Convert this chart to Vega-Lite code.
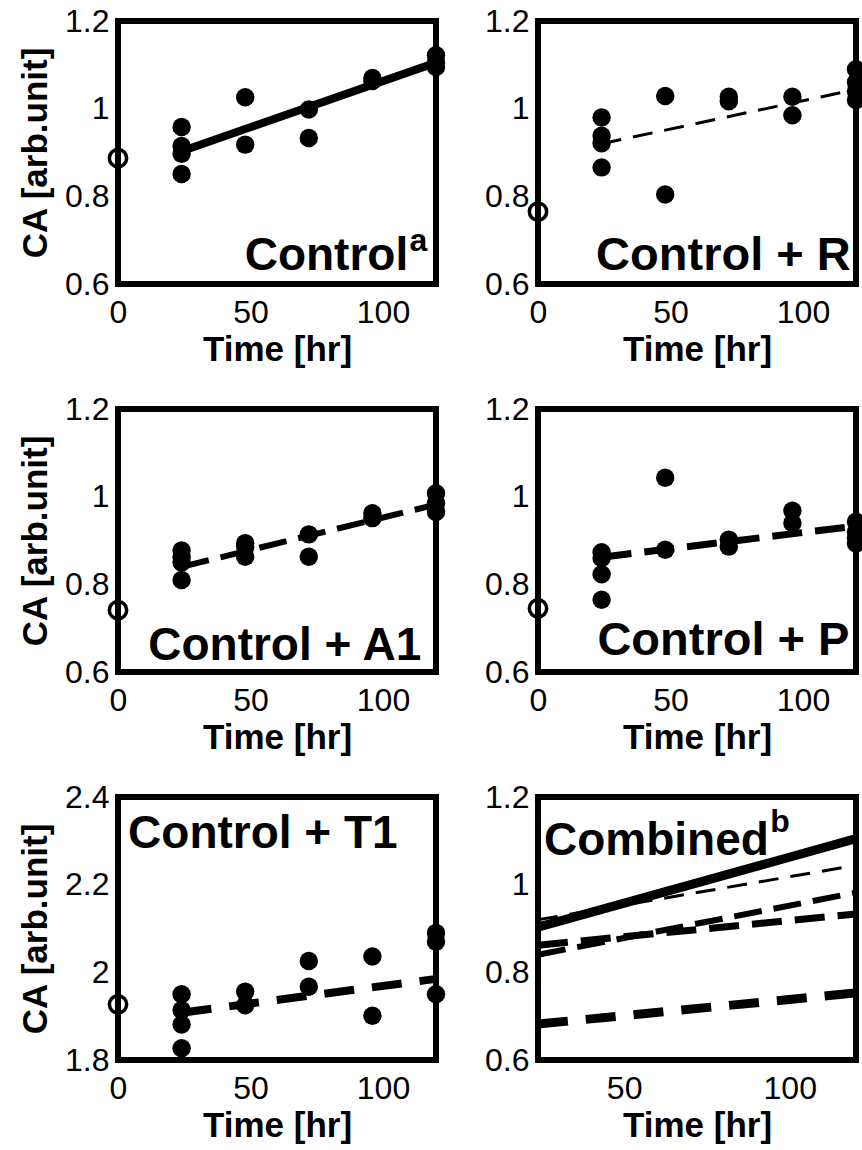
{
  "$schema": "https://vega.github.io/schema/vega-lite/v6.json",
  "padding": {"left": 15, "top": 2, "right": 0, "bottom": 0},
  "background": "white",
  "config": {
    "view": {"stroke": "black", "strokeWidth": 6},
    "font": "Liberation Sans",
    "axis": {"domain": false, "ticks": false, "grid": false, "labelFont": "Liberation Sans", "labelFontSize": 32, "labelColor": "black", "titleFont": "Liberation Sans", "titleFontSize": 35, "titleFontWeight": "bold", "titleColor": "black", "labelFlush": false, "labelOverlap": false},
    "axisX": {"labelPadding": 13, "titlePadding": 4},
    "axisY": {"labelPadding": 9, "titlePadding": 11},
    "text": {"font": "Liberation Sans", "fontWeight": "bold", "color": "black"}
  },
  "datasets": {
    "pts": [
      {"panel": "Control", "kind": "baseline", "t": 0, "v": 0.887},
      {"panel": "Control", "kind": "sample", "t": 24, "v": 0.958},
      {"panel": "Control", "kind": "sample", "t": 24, "v": 0.915},
      {"panel": "Control", "kind": "sample", "t": 24, "v": 0.897},
      {"panel": "Control", "kind": "sample", "t": 24, "v": 0.851},
      {"panel": "Control", "kind": "sample", "t": 48, "v": 1.026},
      {"panel": "Control", "kind": "sample", "t": 48, "v": 0.918},
      {"panel": "Control", "kind": "sample", "t": 72, "v": 0.998},
      {"panel": "Control", "kind": "sample", "t": 72, "v": 0.933},
      {"panel": "Control", "kind": "sample", "t": 96, "v": 1.07},
      {"panel": "Control", "kind": "sample", "t": 96, "v": 1.063},
      {"panel": "Control", "kind": "sample", "t": 120, "v": 1.122},
      {"panel": "Control", "kind": "sample", "t": 120, "v": 1.105},
      {"panel": "Control", "kind": "sample", "t": 120, "v": 1.095},
      {"panel": "R", "kind": "baseline", "t": 0, "v": 0.765},
      {"panel": "R", "kind": "sample", "t": 24, "v": 0.98},
      {"panel": "R", "kind": "sample", "t": 24, "v": 0.938},
      {"panel": "R", "kind": "sample", "t": 24, "v": 0.921},
      {"panel": "R", "kind": "sample", "t": 24, "v": 0.866},
      {"panel": "R", "kind": "sample", "t": 48, "v": 1.029},
      {"panel": "R", "kind": "sample", "t": 48, "v": 0.804},
      {"panel": "R", "kind": "sample", "t": 72, "v": 1.027},
      {"panel": "R", "kind": "sample", "t": 72, "v": 1.017},
      {"panel": "R", "kind": "sample", "t": 96, "v": 1.027},
      {"panel": "R", "kind": "sample", "t": 96, "v": 0.985},
      {"panel": "R", "kind": "sample", "t": 120, "v": 1.09},
      {"panel": "R", "kind": "sample", "t": 120, "v": 1.06},
      {"panel": "R", "kind": "sample", "t": 120, "v": 1.04},
      {"panel": "R", "kind": "sample", "t": 120, "v": 1.02},
      {"panel": "A1", "kind": "baseline", "t": 0, "v": 0.741},
      {"panel": "A1", "kind": "sample", "t": 24, "v": 0.877},
      {"panel": "A1", "kind": "sample", "t": 24, "v": 0.862},
      {"panel": "A1", "kind": "sample", "t": 24, "v": 0.85},
      {"panel": "A1", "kind": "sample", "t": 24, "v": 0.81},
      {"panel": "A1", "kind": "sample", "t": 48, "v": 0.894},
      {"panel": "A1", "kind": "sample", "t": 48, "v": 0.885},
      {"panel": "A1", "kind": "sample", "t": 48, "v": 0.863},
      {"panel": "A1", "kind": "sample", "t": 72, "v": 0.914},
      {"panel": "A1", "kind": "sample", "t": 72, "v": 0.863},
      {"panel": "A1", "kind": "sample", "t": 96, "v": 0.962},
      {"panel": "A1", "kind": "sample", "t": 96, "v": 0.951},
      {"panel": "A1", "kind": "sample", "t": 120, "v": 1.008},
      {"panel": "A1", "kind": "sample", "t": 120, "v": 0.985},
      {"panel": "A1", "kind": "sample", "t": 120, "v": 0.965},
      {"panel": "P", "kind": "baseline", "t": 0, "v": 0.745},
      {"panel": "P", "kind": "sample", "t": 24, "v": 0.873},
      {"panel": "P", "kind": "sample", "t": 24, "v": 0.86},
      {"panel": "P", "kind": "sample", "t": 24, "v": 0.823},
      {"panel": "P", "kind": "sample", "t": 24, "v": 0.765},
      {"panel": "P", "kind": "sample", "t": 48, "v": 1.043},
      {"panel": "P", "kind": "sample", "t": 48, "v": 0.879},
      {"panel": "P", "kind": "sample", "t": 72, "v": 0.902},
      {"panel": "P", "kind": "sample", "t": 72, "v": 0.886},
      {"panel": "P", "kind": "sample", "t": 96, "v": 0.968},
      {"panel": "P", "kind": "sample", "t": 96, "v": 0.94},
      {"panel": "P", "kind": "sample", "t": 120, "v": 0.943},
      {"panel": "P", "kind": "sample", "t": 120, "v": 0.92},
      {"panel": "P", "kind": "sample", "t": 120, "v": 0.905},
      {"panel": "P", "kind": "sample", "t": 120, "v": 0.893},
      {"panel": "T1", "kind": "baseline", "t": 0, "v": 1.927},
      {"panel": "T1", "kind": "sample", "t": 24, "v": 1.95},
      {"panel": "T1", "kind": "sample", "t": 24, "v": 1.914},
      {"panel": "T1", "kind": "sample", "t": 24, "v": 1.881},
      {"panel": "T1", "kind": "sample", "t": 24, "v": 1.827},
      {"panel": "T1", "kind": "sample", "t": 48, "v": 1.956},
      {"panel": "T1", "kind": "sample", "t": 48, "v": 1.925},
      {"panel": "T1", "kind": "sample", "t": 72, "v": 2.026},
      {"panel": "T1", "kind": "sample", "t": 72, "v": 1.967},
      {"panel": "T1", "kind": "sample", "t": 96, "v": 2.036},
      {"panel": "T1", "kind": "sample", "t": 96, "v": 1.901},
      {"panel": "T1", "kind": "sample", "t": 120, "v": 2.09},
      {"panel": "T1", "kind": "sample", "t": 120, "v": 2.07},
      {"panel": "T1", "kind": "sample", "t": 120, "v": 1.95}
    ],
    "fits": [
      {"series": "Control", "t": 24, "v": 0.903},
      {"series": "Control", "t": 120, "v": 1.105},
      {"series": "R", "t": 24, "v": 0.92},
      {"series": "R", "t": 120, "v": 1.044},
      {"series": "A1", "t": 24, "v": 0.84},
      {"series": "A1", "t": 120, "v": 0.982},
      {"series": "P", "t": 24, "v": 0.862},
      {"series": "P", "t": 120, "v": 0.933},
      {"series": "T1", "t": 24, "v": 1.908},
      {"series": "T1", "t": 120, "v": 1.985},
      {"series": "T1 (combined)", "t": 24, "v": 0.682},
      {"series": "T1 (combined)", "t": 120, "v": 0.753}
    ]
  },
  "columns": 2,
  "spacing": {"row": 125, "column": 102},
  "bounds": "flush",
  "concat": [
    {
      "width": 318, "height": 263,
      "layer": [
        {"data": {"name": "pts"}, "transform": [{"filter": "datum.panel == 'Control' && datum.kind == 'sample'"}],
         "mark": {"type": "point", "shape": "circle", "filled": true, "color": "black", "size": 340, "opacity": 1},
         "encoding": {"x": {"field": "t", "type": "quantitative", "scale": {"domain": [0, 120], "nice": false, "zero": false}, "axis": {"values": [0, 50, 100], "title": "Time [hr]"}},
                      "y": {"field": "v", "type": "quantitative", "scale": {"domain": [0.6, 1.2], "nice": false, "zero": false}, "axis": {"values": [0.6, 0.8, 1, 1.2], "format": "~g", "title": "CA [arb.unit]"}}}},
        {"data": {"name": "pts"}, "transform": [{"filter": "datum.panel == 'Control' && datum.kind == 'baseline'"}],
         "mark": {"type": "point", "shape": "circle", "filled": false, "stroke": "black", "strokeWidth": 3.5, "size": 300, "opacity": 1},
         "encoding": {"x": {"field": "t", "type": "quantitative"}, "y": {"field": "v", "type": "quantitative"}}},
        {"data": {"name": "fits"}, "transform": [{"filter": "datum.series == 'Control'"}],
         "mark": {"type": "line", "color": "black", "strokeWidth": 8},
         "encoding": {"x": {"field": "t", "type": "quantitative"}, "y": {"field": "v", "type": "quantitative"}}},
        {"data": {"values": [{"label": "Control"}]},
         "mark": {"type": "text", "align": "right", "baseline": "alphabetic", "fontSize": 46},
         "encoding": {"x": {"datum": 109.5}, "y": {"datum": 0.632}, "text": {"field": "label"}}},
        {"data": {"values": [{"label": "a"}]},
         "mark": {"type": "text", "align": "left", "baseline": "alphabetic", "fontSize": 32},
         "encoding": {"x": {"datum": 110}, "y": {"datum": 0.675}, "text": {"field": "label"}}}
      ]
    },
    {
      "width": 318, "height": 263,
      "layer": [
        {"data": {"name": "pts"}, "transform": [{"filter": "datum.panel == 'R' && datum.kind == 'sample'"}],
         "mark": {"type": "point", "shape": "circle", "filled": true, "color": "black", "size": 340, "opacity": 1},
         "encoding": {"x": {"field": "t", "type": "quantitative", "scale": {"domain": [0, 120], "nice": false, "zero": false}, "axis": {"values": [0, 50, 100], "title": "Time [hr]"}},
                      "y": {"field": "v", "type": "quantitative", "scale": {"domain": [0.6, 1.2], "nice": false, "zero": false}, "axis": {"values": [0.6, 0.8, 1, 1.2], "format": "~g", "title": null}}}},
        {"data": {"name": "pts"}, "transform": [{"filter": "datum.panel == 'R' && datum.kind == 'baseline'"}],
         "mark": {"type": "point", "shape": "circle", "filled": false, "stroke": "black", "strokeWidth": 3.5, "size": 300, "opacity": 1},
         "encoding": {"x": {"field": "t", "type": "quantitative"}, "y": {"field": "v", "type": "quantitative"}}},
        {"data": {"name": "fits"}, "transform": [{"filter": "datum.series == 'R'"}],
         "mark": {"type": "line", "color": "black", "strokeWidth": 3, "strokeDash": [20, 12]},
         "encoding": {"x": {"field": "t", "type": "quantitative"}, "y": {"field": "v", "type": "quantitative"}}},
        {"data": {"values": [{"label": "Control + R"}]},
         "mark": {"type": "text", "align": "right", "baseline": "alphabetic", "fontSize": 47},
         "encoding": {"x": {"datum": 118}, "y": {"datum": 0.632}, "text": {"field": "label"}}}
      ]
    },
    {
      "width": 318, "height": 263,
      "layer": [
        {"data": {"name": "pts"}, "transform": [{"filter": "datum.panel == 'A1' && datum.kind == 'sample'"}],
         "mark": {"type": "point", "shape": "circle", "filled": true, "color": "black", "size": 340, "opacity": 1},
         "encoding": {"x": {"field": "t", "type": "quantitative", "scale": {"domain": [0, 120], "nice": false, "zero": false}, "axis": {"values": [0, 50, 100], "title": "Time [hr]"}},
                      "y": {"field": "v", "type": "quantitative", "scale": {"domain": [0.6, 1.2], "nice": false, "zero": false}, "axis": {"values": [0.6, 0.8, 1, 1.2], "format": "~g", "title": "CA [arb.unit]"}}}},
        {"data": {"name": "pts"}, "transform": [{"filter": "datum.panel == 'A1' && datum.kind == 'baseline'"}],
         "mark": {"type": "point", "shape": "circle", "filled": false, "stroke": "black", "strokeWidth": 3.5, "size": 300, "opacity": 1},
         "encoding": {"x": {"field": "t", "type": "quantitative"}, "y": {"field": "v", "type": "quantitative"}}},
        {"data": {"name": "fits"}, "transform": [{"filter": "datum.series == 'A1'"}],
         "mark": {"type": "line", "color": "black", "strokeWidth": 6, "strokeDash": [28, 12]},
         "encoding": {"x": {"field": "t", "type": "quantitative"}, "y": {"field": "v", "type": "quantitative"}}},
        {"data": {"values": [{"label": "Control + A1"}]},
         "mark": {"type": "text", "align": "left", "baseline": "alphabetic", "fontSize": 46},
         "encoding": {"x": {"datum": 11.4}, "y": {"datum": 0.628}, "text": {"field": "label"}}}
      ]
    },
    {
      "width": 318, "height": 263,
      "layer": [
        {"data": {"name": "pts"}, "transform": [{"filter": "datum.panel == 'P' && datum.kind == 'sample'"}],
         "mark": {"type": "point", "shape": "circle", "filled": true, "color": "black", "size": 340, "opacity": 1},
         "encoding": {"x": {"field": "t", "type": "quantitative", "scale": {"domain": [0, 120], "nice": false, "zero": false}, "axis": {"values": [0, 50, 100], "title": "Time [hr]"}},
                      "y": {"field": "v", "type": "quantitative", "scale": {"domain": [0.6, 1.2], "nice": false, "zero": false}, "axis": {"values": [0.6, 0.8, 1, 1.2], "format": "~g", "title": null}}}},
        {"data": {"name": "pts"}, "transform": [{"filter": "datum.panel == 'P' && datum.kind == 'baseline'"}],
         "mark": {"type": "point", "shape": "circle", "filled": false, "stroke": "black", "strokeWidth": 3.5, "size": 300, "opacity": 1},
         "encoding": {"x": {"field": "t", "type": "quantitative"}, "y": {"field": "v", "type": "quantitative"}}},
        {"data": {"name": "fits"}, "transform": [{"filter": "datum.series == 'P'"}],
         "mark": {"type": "line", "color": "black", "strokeWidth": 7, "strokeDash": [30, 13]},
         "encoding": {"x": {"field": "t", "type": "quantitative"}, "y": {"field": "v", "type": "quantitative"}}},
        {"data": {"values": [{"label": "Control + P"}]},
         "mark": {"type": "text", "align": "right", "baseline": "alphabetic", "fontSize": 47},
         "encoding": {"x": {"datum": 117.5}, "y": {"datum": 0.639}, "text": {"field": "label"}}}
      ]
    },
    {
      "width": 318, "height": 263,
      "layer": [
        {"data": {"name": "pts"}, "transform": [{"filter": "datum.panel == 'T1' && datum.kind == 'sample'"}],
         "mark": {"type": "point", "shape": "circle", "filled": true, "color": "black", "size": 340, "opacity": 1},
         "encoding": {"x": {"field": "t", "type": "quantitative", "scale": {"domain": [0, 120], "nice": false, "zero": false}, "axis": {"values": [0, 50, 100], "title": "Time [hr]"}},
                      "y": {"field": "v", "type": "quantitative", "scale": {"domain": [1.8, 2.4], "nice": false, "zero": false}, "axis": {"values": [1.8, 2, 2.2, 2.4], "format": "~g", "title": "CA [arb.unit]"}}}},
        {"data": {"name": "pts"}, "transform": [{"filter": "datum.panel == 'T1' && datum.kind == 'baseline'"}],
         "mark": {"type": "point", "shape": "circle", "filled": false, "stroke": "black", "strokeWidth": 3.5, "size": 300, "opacity": 1},
         "encoding": {"x": {"field": "t", "type": "quantitative"}, "y": {"field": "v", "type": "quantitative"}}},
        {"data": {"name": "fits"}, "transform": [{"filter": "datum.series == 'T1'"}],
         "mark": {"type": "line", "color": "black", "strokeWidth": 8, "strokeDash": [30, 18]},
         "encoding": {"x": {"field": "t", "type": "quantitative"}, "y": {"field": "v", "type": "quantitative"}}},
        {"data": {"values": [{"label": "Control + T1"}]},
         "mark": {"type": "text", "align": "left", "baseline": "alphabetic", "fontSize": 46},
         "encoding": {"x": {"datum": 3.8}, "y": {"datum": 2.284}, "text": {"field": "label"}}}
      ]
    },
    {
      "width": 318, "height": 263,
      "layer": [
        {"data": {"name": "fits"}, "transform": [{"filter": "datum.series == 'Control'"}],
         "mark": {"type": "line", "color": "black", "strokeWidth": 9},
         "encoding": {"x": {"field": "t", "type": "quantitative", "scale": {"domain": [24, 120], "nice": false, "zero": false}, "axis": {"values": [50, 100], "title": "Time [hr]"}},
                      "y": {"field": "v", "type": "quantitative", "scale": {"domain": [0.6, 1.2], "nice": false, "zero": false}, "axis": {"values": [0.6, 0.8, 1, 1.2], "format": "~g", "title": null}}}},
        {"data": {"name": "fits"}, "transform": [{"filter": "datum.series == 'R'"}],
         "mark": {"type": "line", "color": "black", "strokeWidth": 3, "strokeDash": [20, 12]},
         "encoding": {"x": {"field": "t", "type": "quantitative"}, "y": {"field": "v", "type": "quantitative"}}},
        {"data": {"name": "fits"}, "transform": [{"filter": "datum.series == 'A1'"}],
         "mark": {"type": "line", "color": "black", "strokeWidth": 6, "strokeDash": [28, 12]},
         "encoding": {"x": {"field": "t", "type": "quantitative"}, "y": {"field": "v", "type": "quantitative"}}},
        {"data": {"name": "fits"}, "transform": [{"filter": "datum.series == 'P'"}],
         "mark": {"type": "line", "color": "black", "strokeWidth": 7, "strokeDash": [30, 13]},
         "encoding": {"x": {"field": "t", "type": "quantitative"}, "y": {"field": "v", "type": "quantitative"}}},
        {"data": {"name": "fits"}, "transform": [{"filter": "datum.series == 'T1 (combined)'"}],
         "mark": {"type": "line", "color": "black", "strokeWidth": 9, "strokeDash": [30, 18]},
         "encoding": {"x": {"field": "t", "type": "quantitative"}, "y": {"field": "v", "type": "quantitative"}}},
        {"data": {"values": [{"label": "Combined"}]},
         "mark": {"type": "text", "align": "left", "baseline": "alphabetic", "fontSize": 46},
         "encoding": {"x": {"datum": 25.8}, "y": {"datum": 1.068}, "text": {"field": "label"}}},
        {"data": {"values": [{"label": "b"}]},
         "mark": {"type": "text", "align": "left", "baseline": "alphabetic", "fontSize": 32},
         "encoding": {"x": {"datum": 94.1}, "y": {"datum": 1.12}, "text": {"field": "label"}}}
      ]
    }
  ]
}
